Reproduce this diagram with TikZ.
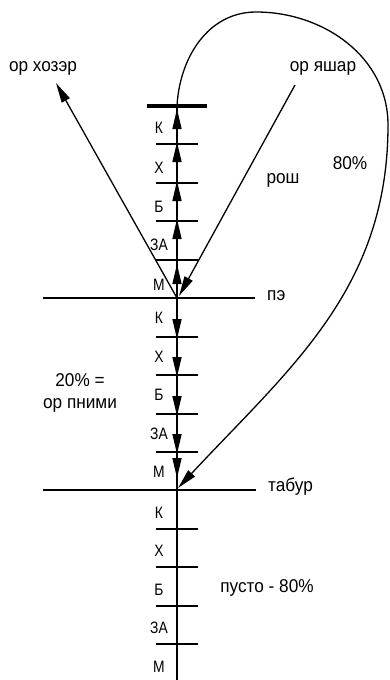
\documentclass[tikz,border=0pt]{standalone}
\usepackage{fontspec}
\setmainfont{Liberation Sans}
\newfontfamily\narrowfont[FakeStretch=0.84]{Liberation Sans}
\newfontfamily\labelfont[FakeStretch=0.93]{Liberation Sans}
\usetikzlibrary{arrows.meta}
\begin{document}
\begin{tikzpicture}[x=1pt,y=-1pt,
  thinln/.style={line width=1.3pt},
  axisln/.style={line width=1.6pt},
  tickln/.style={line width=1.5pt},
  levelln/.style={line width=2pt},
  barln/.style={line width=3.2pt},
  arr/.style={-{Triangle[length=20pt,width=9pt]}},
  lbl/.style={font=\labelfont\fontsize{18.5}{22}\selectfont, inner sep=0pt},
  sml/.style={font=\narrowfont\fontsize{16.5}{18}\selectfont, inner sep=0pt}]
\useasboundingbox (0,0) rectangle (389,680);
% main points
\coordinate (top) at (177,106);
\coordinate (topt) at (177,109);
\coordinate (pe) at (177,298);
\coordinate (tab) at (177,490);
\coordinate (tabt) at (178,488);
\coordinate (bot) at (177,680);
\coordinate (barL) at (147,106);
\coordinate (barR) at (207,106);
\coordinate (peL) at (43,298);
\coordinate (peR) at (255,298);
\coordinate (tabL) at (43,490);
\coordinate (tabR) at (256,490);
\coordinate (khoz) at (56,83);
\coordinate (yash) at (295,85);
\coordinate (yashend) at (179,296);
\coordinate (c1) at (256,12);
\coordinate (c2) at (388,125);
\coordinate (mup) at (177,264);
\coordinate (mdn) at (177,478);
% ticks
\foreach \n/\y in {u1/260,u2/221,u3/183,u4/144,d1/337,d2/375,d3/414,d4/452,b1/529,b2/567,b3/606,b4/644}{
  \coordinate (\n) at (177,\y);
  \coordinate (\n L) at (156,\y);
  \coordinate (\n R) at (198,\y);
  \draw[tickln] (\n L) -- (\n R);
}
% axis and levels
\draw[axisln] (top) -- (bot);
\draw[barln] (barL) -- (barR);
\draw[levelln] (peL) -- (peR);
\draw[levelln] (tabL) -- (tabR);
% upward arrows
\draw[axisln,arr] (pe) -- (mup);
\draw[axisln,arr] (u1) -- ([yshift=2pt]u2);
\draw[axisln,arr] (u2) -- ([yshift=2pt]u3);
\draw[axisln,arr] (u3) -- ([yshift=2pt]u4);
\draw[axisln,arr] (u4) -- (topt);
% downward arrows
\draw[axisln,arr] (pe) -- ([yshift=-2pt]d1);
\draw[axisln,arr] (d1) -- ([yshift=-2pt]d2);
\draw[axisln,arr] (d2) -- ([yshift=-2pt]d3);
\draw[axisln,arr] (d3) -- ([yshift=-2pt]d4);
\draw[axisln,arr] (d4) -- (mdn);
% diagonals
\draw[thinln,arr] (pe) -- (khoz);
\draw[thinln,arr] (yash) -- (yashend);
% big curve
\draw[thinln,arr] (top) to[out=87,in=180] (c1) to[out=0,in=90] (c2) to[out=-90,in=47] (tabt);
% small labels
\foreach \n/\t/\y in {a1/К/128,a2/Х/168,a3/Б/207,a4/ЗА/245,a5/М/285,
                      e1/К/318,e2/Х/357,e3/Б/395,e4/ЗА/434,e5/М/472,
                      f1/К/513,f2/Х/551,f3/Б/590,f4/ЗА/628,f5/М/667}{
  \node[sml] (\n) at (159,\y) {\t};
}
% big labels
\node[lbl] (lkhoz) at (43,68) {ор хозэр};
\node[lbl] (lyash) at (323,68) {ор яшар};
\node[lbl] (lrosh) at (283,180) {рош};
\node[lbl] (l80) at (350,163) {80\%};
\node[lbl,anchor=west] (lpe) at (267,296) {пэ};
\node[lbl,anchor=west] (ltab) at (268,487) {табур};
\node[lbl] (l20) at (80,380) {20\% =};
\node[lbl] (lpnimi) at (80,405) {ор пними};
\node[lbl] (lpusto) at (267,588) {пусто - 80\%};
\end{tikzpicture}
\end{document}
